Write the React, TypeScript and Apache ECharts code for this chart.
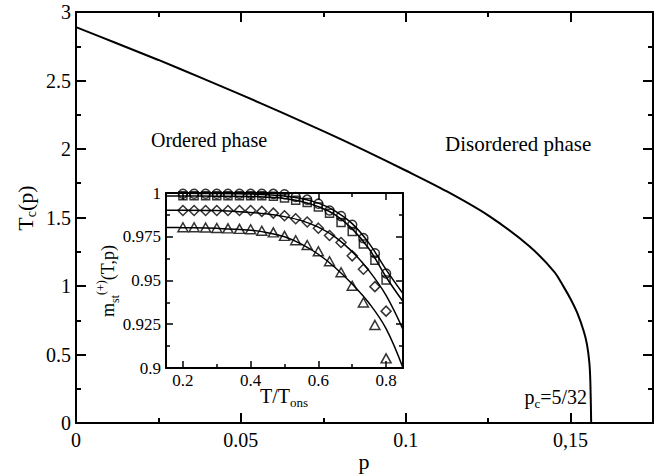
import React, { useEffect, useRef } from 'react';
import * as echarts from 'echarts';

const SERIF = 'Liberation Serif, Times New Roman, serif';

// ---- main chart: critical temperature vs p ----
const P_VALUES = [0, 0.0125, 0.025, 0.0375, 0.05, 0.0625, 0.075, 0.0875, 0.1, 0.1125, 0.125, 0.1375, 0.145, 0.148, 0.15, 0.152, 0.154, 0.155, 0.1557, 0.156, 0.15625];
const TC_VALUES = [2.89, 2.77, 2.65, 2.525, 2.397, 2.265, 2.13, 1.99, 1.843, 1.69, 1.515, 1.29, 1.105, 0.99, 0.905, 0.805, 0.67, 0.57, 0.44, 0.3, 0];
const MAIN_X_MAJOR = [0, 0.05, 0.1, 0.15];
const MAIN_X_MINOR = [0.025, 0.075, 0.125];
const MAIN_X_LABELS = ['0', '0.05', '0.1', '0,15'];

// ---- inset: magnetisation vs T/Tons ----
const T_POINTS = [0.2, 0.233, 0.267, 0.3, 0.333, 0.367, 0.4, 0.433, 0.467, 0.5, 0.533, 0.567, 0.6, 0.633, 0.667, 0.7, 0.733, 0.767, 0.8];
const CIRCLES = [0.9996, 0.9996, 0.9996, 0.9996, 0.9996, 0.9996, 0.9996, 0.9996, 0.9995, 0.9993, 0.9977, 0.9962, 0.9939, 0.99, 0.9868, 0.9818, 0.9742, 0.9656, 0.954];
const SQUARES = [0.9985, 0.9985, 0.9985, 0.9985, 0.9985, 0.9985, 0.9985, 0.9984, 0.9982, 0.9971, 0.9958, 0.9946, 0.992, 0.9885, 0.9832, 0.978, 0.9708, 0.9616, 0.9503];
const DIAMONDS = [0.99, 0.99, 0.99, 0.99, 0.99, 0.99, 0.99, 0.9895, 0.9885, 0.987, 0.9853, 0.9834, 0.9799, 0.9757, 0.9717, 0.9641, 0.9564, 0.9465, 0.9325];
const TRIANGLES = [0.9804, 0.9804, 0.9803, 0.98, 0.9798, 0.9795, 0.9793, 0.9784, 0.9775, 0.9755, 0.973, 0.9703, 0.9667, 0.961, 0.9547, 0.947, 0.9374, 0.9246, 0.9055];

const FIT_T = [0.15, 0.2, 0.3, 0.4, 0.45, 0.5, 0.55, 0.6, 0.65, 0.7, 0.75, 0.8, 0.85];
const FIT_CIRCLE = [0.9998, 0.9998, 0.9997, 0.9994, 0.999, 0.9983, 0.9968, 0.9942, 0.9897, 0.9825, 0.9712, 0.9562, 0.9425];
const FIT_SQUARE = [0.9983, 0.9983, 0.9982, 0.998, 0.9976, 0.9968, 0.9952, 0.9922, 0.9875, 0.9795, 0.968, 0.952, 0.938];
const FIT_DIAMOND = [0.9902, 0.9902, 0.99, 0.9889, 0.988, 0.9865, 0.9842, 0.9805, 0.9748, 0.9665, 0.9555, 0.9415, 0.922];
const FIT_TRIANGLE = [0.9803, 0.9802, 0.9798, 0.9787, 0.9773, 0.975, 0.9708, 0.965, 0.9573, 0.948, 0.937, 0.9225, 0.9];

const INSET_X_MAJOR = [0.2, 0.4, 0.6, 0.8];
const INSET_X_MINOR = [0.3, 0.5, 0.7];
const INSET_X_LABELS = ['0.2', '0.4', '0.6', '0.8'];

const zip = (xs: number[], ys: number[]) => xs.map((x, i) => [x, ys[i]]);
const BLACK = '#000';

function labelFor(values: number[], labels: string[]) {
  return (v: number) => {
    const i = values.findIndex((u) => Math.abs(u - v) < 1e-9);
    return i >= 0 ? labels[i] : '';
  };
}

function xAxes(gridIndex: number, min: number, max: number, major: number[], minor: number[], labels: string[], o: any) {
  const base = { type: 'value', gridIndex, min, max, splitLine: { show: false } };
  const res: any[] = [];
  (['bottom', 'top'] as const).forEach((pos) => {
    res.push({
      ...base,
      position: pos,
      axisLine: { show: true, onZero: false, lineStyle: { color: BLACK, width: o.lineWidth } },
      axisTick: { show: true, inside: true, length: o.majorLen, customValues: major, lineStyle: { color: BLACK, width: o.tickWidth } },
      axisLabel: pos === 'bottom'
        ? { show: true, customValues: major, formatter: labelFor(major, labels), fontFamily: SERIF, fontSize: o.fontSize, color: BLACK, margin: o.margin }
        : { show: false },
    });
    res.push({
      ...base,
      position: pos,
      axisLine: { show: false, onZero: false },
      axisTick: { show: true, inside: true, length: o.minorLen, customValues: minor, lineStyle: { color: BLACK, width: o.tickWidth } },
      axisLabel: { show: false },
    });
  });
  return res;
}

function yAxes(gridIndex: number, min: number, max: number, interval: number, o: any) {
  return (['left', 'right'] as const).map((pos) => ({
    type: 'value',
    gridIndex,
    position: pos,
    min,
    max,
    interval,
    splitLine: { show: false },
    axisLine: { show: true, onZero: false, lineStyle: { color: BLACK, width: o.lineWidth } },
    axisTick: { show: true, inside: true, length: o.majorLen, lineStyle: { color: BLACK, width: o.tickWidth } },
    minorTick: { show: true, splitNumber: 2, length: o.minorLen, lineStyle: { color: BLACK, width: o.tickWidth } },
    axisLabel: pos === 'left'
      ? { show: true, fontFamily: SERIF, fontSize: o.fontSize, color: BLACK, margin: o.margin }
      : { show: false },
  }));
}

const mainStyle = { lineWidth: 2, tickWidth: 2, majorLen: 10, minorLen: 5, fontSize: 20 };
const insetStyle = { lineWidth: 2, tickWidth: 1.5, majorLen: 7, minorLen: 4, fontSize: 17 };

const sub = { fontSize: 13, fontFamily: SERIF, fill: BLACK, color: BLACK, lineHeight: 13, verticalAlign: 'bottom' };
const sup = { fontSize: 12, fontFamily: SERIF, fill: BLACK, color: BLACK, lineHeight: 12, verticalAlign: 'top' };
const big = (s: number) => ({ fontSize: s, fontFamily: SERIF, fill: BLACK, color: BLACK, lineHeight: 26, verticalAlign: 'middle' });

function txt(x: number, y: number, text: string, align: string, size: number, rotation = 0, rich?: any) {
  return {
    type: 'text',
    x,
    y,
    rotation,
    z: 10,
    style: {
      text,
      fill: BLACK,
      fontSize: size,
      fontFamily: SERIF,
      align,
      textAlign: align,
      verticalAlign: 'middle',
      textVerticalAlign: 'middle',
      rich,
    },
  };
}

export default function App() {
  const ref = useRef<HTMLDivElement>(null);
  useEffect(() => {
    if (!ref.current) return;
    const chart = echarts.init(ref.current, null, { renderer: 'svg' });
    const scatter = (data: number[], symbol: string, size: any) => ({
      type: 'scatter',
      xAxisIndex: 4,
      yAxisIndex: 2,
      data: zip(T_POINTS, data),
      symbol,
      symbolSize: size,
      itemStyle: { color: 'rgba(0,0,0,0)', borderColor: BLACK, borderWidth: 1.5 },
      z: 5,
    });
    const fit = (data: number[]) => ({
      type: 'line',
      xAxisIndex: 4,
      yAxisIndex: 2,
      data: zip(FIT_T, data),
      smooth: 0.4,
      showSymbol: false,
      symbol: 'none',
      lineStyle: { color: BLACK, width: 1.5 },
      z: 4,
    });
    chart.setOption({
      animation: false,
      backgroundColor: '#fff',
      grid: [
        { left: 76, top: 12, right: 13, bottom: 51 },
        { left: 166, top: 193, width: 237, height: 175 },
      ],
      xAxis: [
        ...xAxes(0, 0, 0.175, MAIN_X_MAJOR, MAIN_X_MINOR, MAIN_X_LABELS, { ...mainStyle, margin: 7 }),
        ...xAxes(1, 0.15, 0.85, INSET_X_MAJOR, INSET_X_MINOR, INSET_X_LABELS, { ...insetStyle, margin: 4 }),
      ],
      yAxis: [
        ...yAxes(0, 0, 3, 0.5, { ...mainStyle, margin: 5 }),
        ...yAxes(1, 0.9, 1.0, 0.025, { ...insetStyle, margin: 5 }),
      ],
      series: [
        {
          type: 'line',
          xAxisIndex: 0,
          yAxisIndex: 0,
          data: zip(P_VALUES, TC_VALUES),
          smooth: 0.3,
          showSymbol: false,
          symbol: 'none',
          lineStyle: { color: BLACK, width: 2 },
        },
        fit(FIT_CIRCLE),
        fit(FIT_SQUARE),
        fit(FIT_DIAMOND),
        fit(FIT_TRIANGLE),
        scatter(CIRCLES, 'circle', 9),
        scatter(SQUARES, 'rect', 8),
        scatter(DIAMONDS, 'diamond', 10),
        scatter(TRIANGLES, 'triangle', [10, 9]),
      ],
      graphic: [
        txt(151, 140, 'Ordered phase', 'left', 20),
        txt(445, 144, 'Disordered phase', 'left', 21),
        txt(364, 461, 'p', 'center', 22),
        txt(25, 208, '{a|T}{s|c}{a|(p)}', 'center', 22, Math.PI / 2, { a: big(22), s: { ...sub, fontSize: 14, lineHeight: 14 } }),
        txt(108, 281, '{a|m}{s|st}{u|(+)}{a|(T,p)}', 'center', 18, Math.PI / 2, { a: big(18), s: { ...sub, fontSize: 12, lineHeight: 12 }, u: sup }),
        txt(260, 396, '{a|T/T}{s|ons}', 'left', 20, 0, { a: big(20), s: sub }),
        txt(587, 397, '{a|p}{s|c}{a|=5/32}', 'right', 20, 0, { a: big(20), s: sub }),
      ],
    });
    return () => chart.dispose();
  }, []);
  return (
    <div
      ref={ref}
      style={{ position: 'absolute', left: 0, top: 0, width: 666, height: 474, background: '#fff' }}
    />
  );
}
